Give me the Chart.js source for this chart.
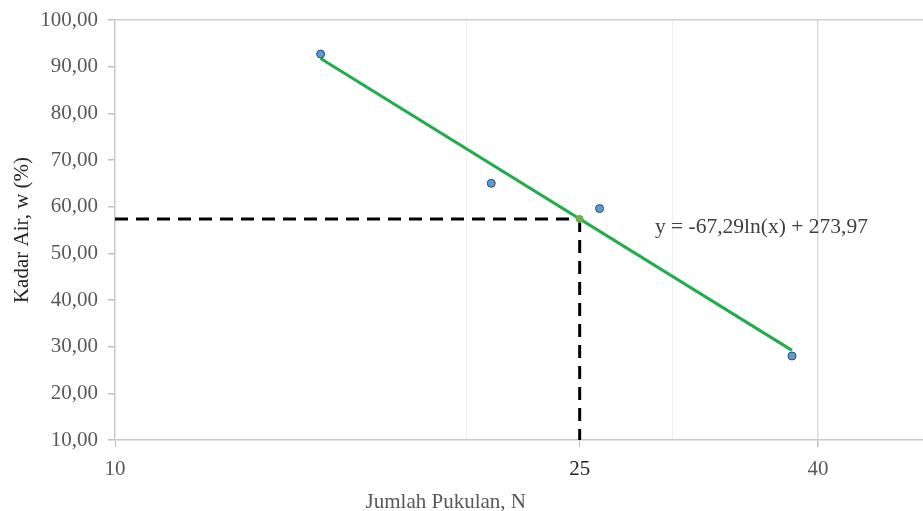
<!DOCTYPE html>
<html>
<head>
<meta charset="utf-8">
<script src="https://cdn.jsdelivr.net/npm/chart.js@4.4.0/dist/chart.umd.min.js"></script>
<style>
  body { margin: 0; background: #fff; }
  #wrap { width: 923px; height: 511px; }
</style>
</head>
<body>
<div id="wrap"><canvas id="chart" width="923" height="511"></canvas></div>
<script>
// data
const blowsN = [15, 21, 26, 38];
const waterW = [92.7, 65.0, 59.6, 28.0];

// trend line ends (y = -67,29ln(x) + 273,97)
const trendN = [15, 38];
const trendW = [91.75, 29.2];

// liquid limit at 25 blows
const llN = 25;
const llW = 57.37;

const xTicks = [10, 20, 25, 30, 40];
const xLabels = [10, 25, 40];
const xMin = 10, xMax = 49.2;
const yMin = 10, yMax = 100, yStep = 10;

const eqText = "y = -67,29ln(x) + 273,97";
const eqPos = { x: 29, y: 55.6 };
const xTitle = "Jumlah Pukulan, N";
const xTitleAt = 19.2; // N value under the title centre

const serif = '"Liberation Serif", "Times New Roman", serif';

const extraText = {
  id: "extraText",
  afterDatasetsDraw(chart) {
    const c = chart.ctx;
    const xs = chart.scales.x, ys = chart.scales.y;
    c.save();
    c.font = "21.5px " + serif;
    c.fillStyle = "#404040";
    c.textAlign = "left";
    c.textBaseline = "middle";
    c.fillText(eqText, xs.getPixelForValue(eqPos.x), ys.getPixelForValue(eqPos.y));
    c.font = "21px " + serif;
    c.fillStyle = "#595959";
    c.textAlign = "center";
    c.fillText(xTitle, xs.getPixelForValue(xTitleAt), xs.bottom - 9);
    c.restore();
  }
};

new Chart(document.getElementById("chart").getContext("2d"), {
  type: "scatter",
  data: {
    datasets: [
      {
        label: "data",
        data: blowsN.map((n, i) => ({ x: n, y: waterW[i] })),
        pointRadius: 4,
        pointBackgroundColor: "#5b9bd5",
        pointBorderColor: "#2e4a66",
        pointBorderWidth: 1,
        showLine: false
      },
      {
        label: "LL",
        data: [{ x: llN, y: llW }],
        pointRadius: 3.5,
        pointBackgroundColor: "#70ad47",
        pointBorderColor: "#70ad47",
        showLine: false
      },
      {
        label: "trend",
        data: trendN.map((n, i) => ({ x: n, y: trendW[i] })),
        showLine: true,
        borderColor: "#1fae4b",
        borderWidth: 3,
        pointRadius: 0
      },
      {
        label: "h",
        data: [{ x: xMin, y: llW }, { x: llN, y: llW }],
        showLine: true,
        borderColor: "#000",
        borderWidth: 3,
        borderDash: [13, 8],
        pointRadius: 0
      },
      {
        label: "v",
        data: [{ x: llN, y: llW }, { x: llN, y: yMin }],
        showLine: true,
        borderColor: "#000",
        borderWidth: 3,
        borderDash: [13, 8],
        pointRadius: 0
      }
    ]
  },
  options: {
    responsive: false,
    animation: false,
    layout: { autoPadding: false, padding: { top: 20, right: 0, left: 0, bottom: 0 } },
    plugins: {
      legend: { display: false },
      tooltip: { enabled: false }
    },
    scales: {
      x: {
        type: "logarithmic",
        min: xMin,
        max: xMax,
        afterBuildTicks(scale) {
          scale.ticks = xTicks.map(v => ({ value: v }));
        },
        afterFit(scale) {
          scale.height = 71;
          scale.paddingLeft = 0;
          scale.paddingRight = 0;
        },
        border: { color: "#c8c8c8", width: 1.5 },
        grid: {
          color: ctx => {
            const v = ctx.tick && ctx.tick.value;
            if (v === 40) return "#dcdcdc";
            if (v === 20 || v === 30) return "#efefef";
            return "rgba(0,0,0,0)";
          },
          lineWidth: ctx => (ctx.tick && ctx.tick.value === 40 ? 1.5 : 1),
          tickColor: ctx => (xLabels.includes(ctx.tick && ctx.tick.value) ? "#c0c0c0" : "rgba(0,0,0,0)"),
          tickLength: 7
        },
        ticks: {
          autoSkip: false,
          maxRotation: 0,
          padding: 10,
          color: ctx => (ctx.tick && ctx.tick.value === 25 ? "#222" : "#595959"),
          font: { family: serif, size: 21 },
          callback: v => (xLabels.includes(v) ? String(v) : "")
        },
        title: { display: false }
      },
      y: {
        min: yMin,
        max: yMax,
        afterFit(scale) {
          scale.width = 115;
          scale.paddingTop = 0;
          scale.paddingBottom = 0;
        },
        border: { color: "#c8c8c8", width: 1.5 },
        grid: {
          color: ctx => (ctx.tick && ctx.tick.value === yMax ? "#cfcfcf" : "rgba(0,0,0,0)"),
          lineWidth: 1.5,
          tickColor: "#c0c0c0",
          tickLength: 7
        },
        ticks: {
          stepSize: yStep,
          padding: 10,
          color: "#595959",
          font: { family: serif, size: 21 },
          callback: v => v.toFixed(2).replace(".", ",")
        },
        title: {
          display: true,
          text: "Kadar Air, w (%)",
          color: "#262626",
          font: { family: serif, size: 21, lineHeight: 1 },
          padding: { top: 12, bottom: 0 }
        }
      }
    }
  },
  plugins: [extraText]
});
</script>
</body>
</html>
